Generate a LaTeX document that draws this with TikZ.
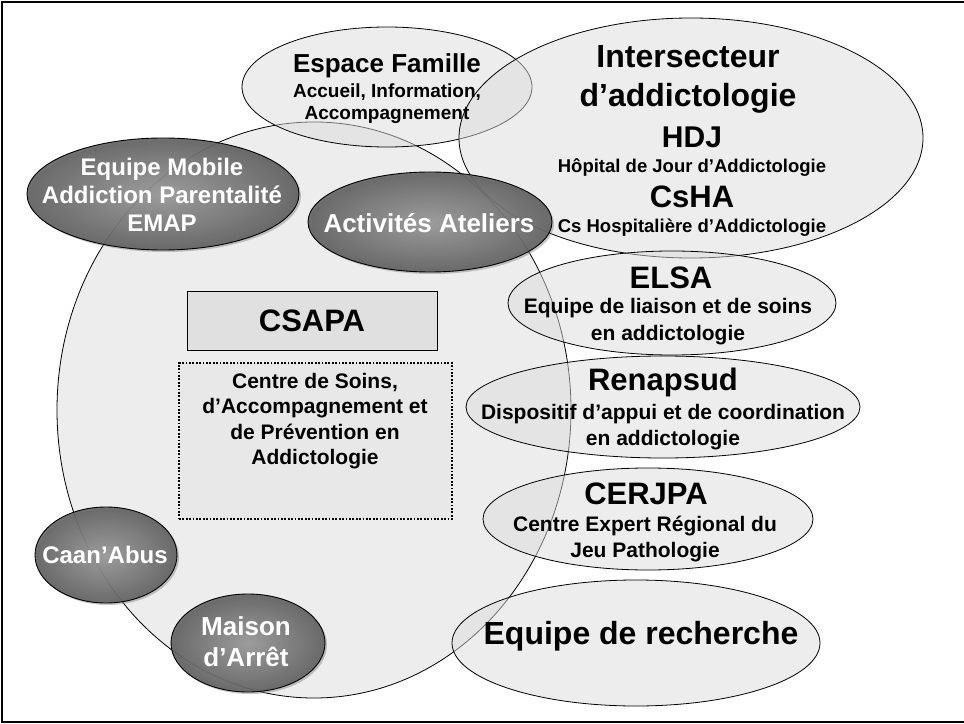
\documentclass[tikz,border=0pt]{standalone}
\usepackage{fontspec}
\setmainfont{Liberation Sans}
\usepackage{tikz}
\usetikzlibrary{shapes.geometric}
\usetikzlibrary{shadows}
\newcommand{\fsz}[2]{\fontsize{#1bp}{#2bp}\selectfont}
\tikzset{frame/.style = {draw = black, line width = 1.5bp}}
\tikzset{pale/.style = {ellipse, draw = black, line width = 0.8bp, fill = black!14,
                        fill opacity = 0.5, inner sep = 0}}
\tikzset{dark/.style = {ellipse, draw = black, line width = 0.9bp, inner color = black!40,
                        outer color = black!62, fill opacity = 0.9, inner sep = 0,
                        drop shadow = {shadow xshift = 2bp, shadow yshift = -2bp, opacity = 0.45}}}
\tikzset{title/.style = {font = \bfseries\fsz{31}{36}, align = center, inner sep = 0}}
\tikzset{sub/.style = {font = \bfseries\fsz{20}{26}, align = center, inner sep = 0}}
\tikzset{lbl/.style = {font = \bfseries\fsz{24}{28}, text = white, align = center, inner sep = 0}}

\begin{document}
\begin{tikzpicture}[x = 1bp, y = -1bp]
    \useasboundingbox (0, 0) rectangle (964, 724);
    \draw [frame] (2, 2) rectangle (975, 722);

    % grands ensembles
    \node [pale, minimum width = 514bp, minimum height = 576bp] (zone) at (314, 410) {};
    \node [pale, minimum width = 290bp, minimum height = 120bp] (famille) at (387, 87) {};
    \node [pale, minimum width = 464bp, minimum height = 240bp] (inter) at (691, 138) {};
    \node [pale, minimum width = 328bp, minimum height = 104bp] (elsa) at (672, 303) {};
    \node [pale, minimum width = 394bp, minimum height = 102bp] (renap) at (663, 407) {};
    \node [pale, minimum width = 330bp, minimum height = 102bp] (cerjpa) at (648, 519) {};
    \node [pale, minimum width = 368bp, minimum height = 126bp] (recherche) at (636, 643) {};

    % equipes rattachees
    \node [dark, minimum width = 272bp, minimum height = 112bp] (emap) at (163, 194) {};
    \node [dark, minimum width = 244bp, minimum height = 100bp] (ateliers) at (430, 222) {};
    \node [dark, minimum width = 142bp, minimum height = 96bp] (caan) at (106, 555) {};
    \node [dark, minimum width = 154bp, minimum height = 98bp] (maison) at (248, 643) {};

    % CSAPA
    \node [draw, line width = 0.9bp, fill = black!12, minimum width = 250bp, minimum height = 59bp,
           font = \bfseries\fsz{31}{36}] (csapa) at (312, 320.5) {CSAPA};
    \node [draw, line width = 2bp, dash pattern = on 1.8bp off 1.6bp, fill = black!9,
           minimum width = 273bp, minimum height = 156bp] (csapabox) at (315.5, 441) {};
    \node [sub, font = \bfseries\fsz{21}{25.5}] (csapatxt) at (315, 421)
          {Centre de Soins,\\d’Accompagnement et\\de Prévention en\\Addictologie};

    \node [title, font = \bfseries\fsz{26}{30}] (famtitle) at (387, 66) {Espace Famille};
    \node [sub, font = \bfseries\fsz{19}{22}] (famsub) at (387, 104) {Accueil, Information,\\Accompagnement};

    \node [title, font = \bfseries\fsz{32}{39}] (intertitle) at (688, 79) {Intersecteur\\d’addictologie};
    \node [title, font = \bfseries\fsz{30}{36}] (hdj) at (692, 137) {HDJ};
    \node [sub, font = \bfseries\fsz{18.5}{22}] (hdjtxt) at (692, 168) {Hôpital de Jour d’Addictologie};
    \node [title] (csha) at (692, 197) {CsHA};
    \node [sub, font = \bfseries\fsz{18.5}{22}] (cshatxt) at (692, 228) {Cs Hospitalière d’Addictologie};

    \node [title] (elsatitle) at (671, 278) {ELSA};
    \node [sub, font = \bfseries\fsz{21}{27}] (elsatxt) at (668, 322) {Equipe de liaison et de soins\\en addictologie};
    \node [title] (renaptitle) at (663, 382) {Renapsud};
    \node [sub, font = \bfseries\fsz{21}{26}] (renaptxt) at (663, 427) {Dispositif d’appui et de coordination\\en addictologie};
    \node [title] (cerjpatitle) at (646, 494) {CERJPA};
    \node [sub, font = \bfseries\fsz{21}{26}] (cerjpatxt) at (645, 539) {Centre Expert Régional du\\Jeu Pathologie};
    \node [title, font = \bfseries\fsz{32}{36}] (rechtxt) at (641, 636) {Equipe de recherche};

    \node [lbl] (emaptxt) at (162, 195) {Equipe Mobile\\Addiction Parentalité\\EMAP};
    \node [lbl, font = \bfseries\fsz{26}{30}] (atelierstxt) at (429, 223) {Activités Ateliers};
    \node [lbl] (caantxt) at (105, 555) {Caan’Abus};
    \node [lbl, font = \bfseries\fsz{26}{31}] (maisontxt) at (246, 642) {Maison\\d’Arrêt};
\end{tikzpicture}
\end{document}
